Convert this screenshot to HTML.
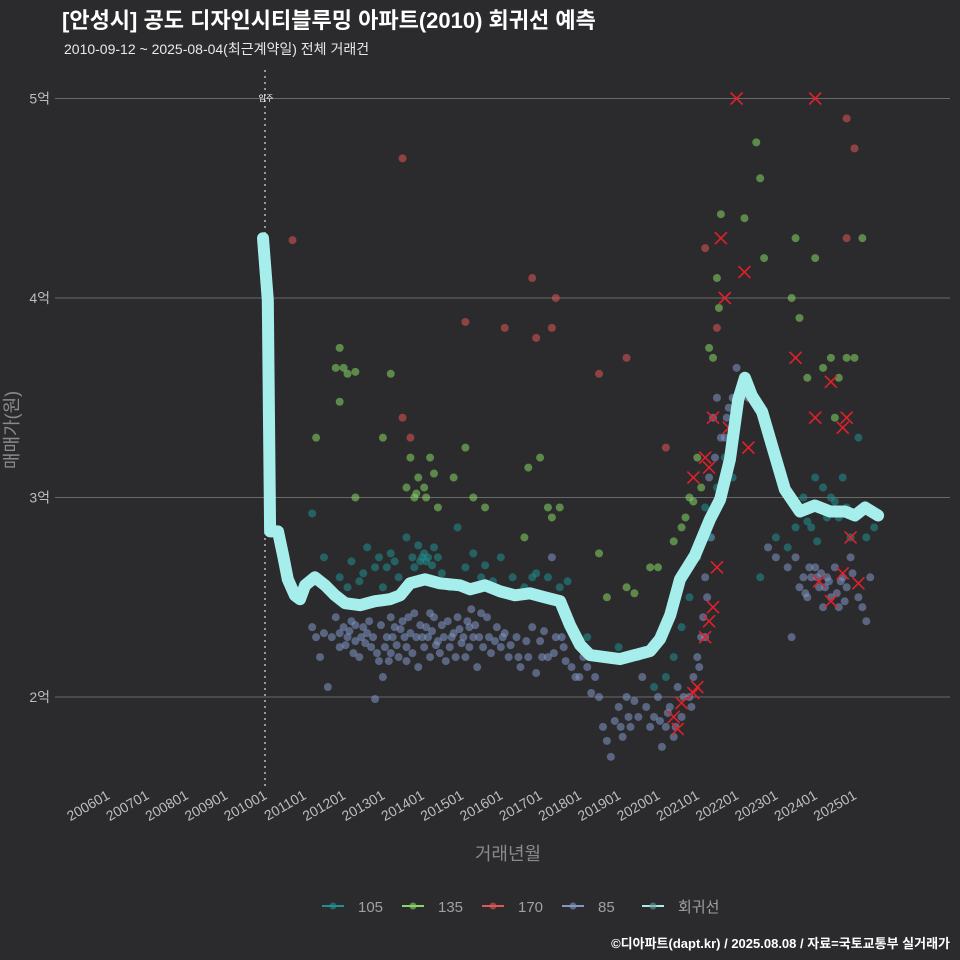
<!DOCTYPE html>
<html><head><meta charset="utf-8">
<style>
body{margin:0;background:#2b2b2d;}
svg{display:block;font-family:"Liberation Sans","Noto Sans CJK KR",sans-serif;}
</style></head>
<body>
<svg id="chart" width="960" height="960" xmlns="http://www.w3.org/2000/svg">
<rect width="960" height="960" fill="#2b2b2d"/>
<text x="62" y="28" fill="#ffffff" font-size="22" font-weight="bold">[안성시] 공도 디자인시티블루밍 아파트(2010) 회귀선 예측</text>
<text x="64" y="54" fill="#e8e8e8" font-size="14">2010-09-12 ~ 2025-08-04(최근계약일) 전체 거래건</text>
<g id="grid"></g>
<g id="yticks"></g>
<g id="xticks"></g>
<line x1="265" y1="70" x2="265" y2="790" stroke="#bbbbbb" stroke-width="1.5" stroke-dasharray="2,4"/>
<text x="266" y="101" fill="#ffffff" font-size="8" text-anchor="middle">입주</text>
<g id="points"></g>
<g id="marks"></g>
<path id="reg" fill="none" stroke="#a6eeec" stroke-width="12" stroke-linecap="round" stroke-linejoin="round"/>
<text x="18" y="430" fill="#8a8a8a" font-size="18" text-anchor="middle" transform="rotate(-90 18 430)">매매가(원)</text>
<text x="508" y="860" fill="#8a8a8a" font-size="18" text-anchor="middle">거래년월</text>
<g id="legend"></g>
<text x="950" y="948" fill="#ffffff" font-size="13" font-weight="bold" text-anchor="end">©디아파트(dapt.kr) / 2025.08.08 / 자료=국토교통부 실거래가</text>
</svg>
<script>
const yTicks=[2,3,4,5];
const yTickLabels=["2억","3억","4억","5억"];
const xTickYears=[2006,2007,2008,2009,2010,2011,2012,2013,2014,2015,2016,2017,2018,2019,2020,2021,2022,2023,2024,2025];
const xTickLabels=["200601","200701","200801","200901","201001","201101","201201","201301","201401","201501","201601","201701","201801","201901","202001","202101","202201","202301","202401","202501"];
const seriesNames=["105","135","170","85","회귀선"];
const seriesColors=["#1f9090","#86d764","#e05555","#8197c6","#a6eeec"];
const s85=[[2011.2,2.35],[2011.3,2.3],[2011.4,2.2],[2011.5,2.32],[2011.6,2.05],[2011.7,2.3],[2011.8,2.4],[2011.9,2.25],[2012.0,2.35],[2012.1,2.3],[2012.2,2.38],[2012.3,2.28],[2012.4,2.2],[2012.5,2.35],[2012.6,2.32],[2012.7,2.25],[2012.8,1.99],[2012.9,2.18],[2013.0,2.1],[2013.1,2.3],[2013.2,2.4],[2013.3,2.35],[2013.4,2.2],[2013.5,2.38],[2013.6,2.25],[2013.7,2.32],[2013.8,2.42],[2013.9,2.15],[2014.0,2.3],[2014.1,2.35],[2014.2,2.2],[2014.3,2.4],[2014.4,2.28],[2014.5,2.36],[2014.6,2.18],[2014.7,2.25],[2014.8,2.32],[2014.9,2.4],[2015.0,2.27],[2015.1,2.2],[2015.2,2.35],[2015.3,2.3],[2015.4,2.15],[2015.5,2.42],[2015.7,2.3],[2015.9,2.35],[2016.0,2.25],[2016.2,2.2],[2016.4,2.3],[2016.5,2.15],[2016.7,2.2],[2016.8,2.35],[2016.9,2.12],[2017.0,2.28],[2017.2,2.2],[2017.3,2.7],[2017.4,2.3],[2017.6,2.25],[2017.8,2.15],[2017.9,2.1],[2018.1,2.2],[2018.3,2.02],[2018.5,2.0],[2018.6,1.85],[2018.7,1.78],[2018.8,1.7],[2018.9,1.88],[2019.0,1.95],[2019.1,1.8],[2019.2,2.0],[2019.3,1.85],[2019.5,1.9],[2019.6,2.1],[2019.8,1.85],[2019.9,1.9],[2020.0,2.0],[2020.1,1.75],[2020.2,1.85],[2020.3,1.95],[2020.5,2.05],[2020.6,1.9],[2020.8,2.0],[2020.9,2.1],[2021.0,2.2],[2021.1,2.3],[2021.2,2.6],[2021.3,3.1],[2021.4,3.4],[2021.5,3.5],[2021.6,3.3],[2021.8,3.45],[2021.9,3.5],[2022.0,3.65],[2022.8,2.75],[2023.0,2.7],[2023.3,2.65],[2023.5,2.7],[2023.6,2.55],[2023.8,2.5],[2023.9,2.6],[2024.0,2.65],[2024.1,2.55],[2024.3,2.6],[2024.4,2.5],[2024.5,2.65],[2024.6,2.45],[2024.7,2.6],[2024.8,2.55],[2024.9,2.7],[2025.1,2.5],[2025.2,2.45],[2025.3,2.38],[2025.4,2.6],[2011.9,2.32],[2012.3,2.36],[2013.2,2.22],[2013.6,2.18],[2014.2,2.42],[2015.2,2.25],[2016.1,2.32],[2017.1,2.33],[2018.0,2.1],[2019.4,1.98],[2020.4,1.8],[2021.2,2.3],[2024.2,2.45],[2023.4,2.3],
[2012.05,2.26],[2012.15,2.33],[2012.25,2.22],[2012.45,2.3],[2012.55,2.27],[2012.65,2.38],[2012.75,2.3],[2012.85,2.22],[2012.95,2.36],[2013.05,2.25],[2013.15,2.18],[2013.25,2.3],[2013.35,2.26],[2013.45,2.34],[2013.55,2.3],[2013.65,2.4],[2013.75,2.22],[2013.85,2.3],[2013.95,2.36],[2014.05,2.25],[2014.15,2.3],[2014.25,2.33],[2014.35,2.26],[2014.45,2.22],[2014.55,2.3],[2014.65,2.38],[2014.75,2.3],[2014.85,2.2],[2014.95,2.34],[2015.05,2.3],[2015.15,2.38],[2015.25,2.44],[2015.35,2.36],[2015.45,2.3],[2015.55,2.25],[2015.65,2.4],[2015.75,2.22],[2015.85,2.28],[2016.05,2.3],[2016.25,2.26],[2016.45,2.2],[2016.65,2.28],[2017.05,2.2],[2017.35,2.22],[2017.55,2.3],[2017.65,2.18],[2018.2,2.15],[2018.4,2.1],[2019.05,1.85],[2019.25,1.9],[2019.7,1.95],[2020.05,1.88],[2020.25,1.92],[2020.45,1.85],[2020.65,2.0],[2020.85,1.95],[2021.05,2.15],[2021.15,2.4],[2021.25,2.5],[2021.35,2.8],[2021.45,3.2],[2021.7,3.3],[2021.75,3.4],[2022.05,3.5],[2024.05,2.6],[2024.15,2.62],[2024.25,2.55],[2024.35,2.58],[2024.55,2.52],[2024.65,2.58],[2024.75,2.48],[2024.95,2.62],[2023.7,2.6],[2023.75,2.52],[2023.85,2.65]];
const s105=[[2011.2,2.92],[2011.5,2.7],[2011.9,2.6],[2012.2,2.68],[2012.4,2.58],[2012.6,2.75],[2012.8,2.65],[2013.0,2.55],[2013.2,2.72],[2013.4,2.6],[2013.6,2.8],[2013.8,2.65],[2014.0,2.7],[2014.1,2.68],[2014.3,2.75],[2014.5,2.62],[2014.7,2.55],[2014.9,2.85],[2015.1,2.65],[2015.3,2.72],[2015.5,2.6],[2015.8,2.58],[2016.0,2.7],[2016.3,2.6],[2016.6,2.55],[2016.9,2.62],[2017.2,2.6],[2017.5,2.55],[2017.7,2.58],[2018.2,2.3],[2018.6,2.2],[2019.0,2.25],[2019.5,2.2],[2019.9,2.05],[2020.2,2.1],[2020.4,2.2],[2020.6,2.35],[2020.8,2.5],[2021.0,2.7],[2021.2,2.95],[2021.3,2.8],[2021.5,3.05],[2021.7,3.2],[2021.9,3.1],[2022.3,3.5],[2022.6,2.6],[2023.0,2.8],[2023.3,2.75],[2023.5,2.85],[2023.7,3.0],[2023.8,2.88],[2024.0,3.1],[2024.2,3.05],[2024.3,2.9],[2024.5,2.98],[2024.7,3.1],[2024.9,2.8],[2025.1,3.3],[2025.3,2.8],[2025.5,2.85],[2012.9,2.7],[2013.9,2.76],[2014.4,2.7],
[2013.75,2.7],[2013.95,2.68],[2014.05,2.72],[2014.15,2.7],[2014.25,2.66],[2012.5,2.62],[2013.1,2.65],[2013.3,2.68],[2012.1,2.55],[2015.6,2.66],[2016.8,2.6],[2024.1,2.95],[2024.4,3.0],[2024.6,2.9],[2024.8,2.95],[2023.9,2.85],[2024.05,2.78]];
const s135=[[2011.3,3.3],[2011.8,3.65],[2011.9,3.75],[2012.0,3.65],[2012.1,3.62],[2012.3,3.63],[2011.9,3.48],[2012.3,3.0],[2013.0,3.3],[2013.2,3.62],[2013.6,3.05],[2013.7,3.2],[2013.8,3.0],[2013.9,3.1],[2014.1,3.0],[2014.2,3.2],[2014.4,2.95],[2014.8,3.1],[2015.1,3.25],[2015.3,3.0],[2015.6,2.95],[2016.6,2.8],[2016.7,3.15],[2017.0,3.2],[2017.2,2.95],[2017.3,2.9],[2017.5,2.95],[2018.5,2.72],[2018.7,2.5],[2019.2,2.55],[2019.4,2.52],[2019.8,2.65],[2020.0,2.65],[2020.4,2.78],[2020.6,2.85],[2020.8,3.0],[2021.0,3.2],[2021.3,3.75],[2021.4,3.7],[2021.5,4.1],[2021.6,4.42],[2022.2,4.4],[2022.5,4.78],[2022.6,4.6],[2022.7,4.2],[2023.4,4.0],[2023.5,4.3],[2023.6,3.9],[2023.8,3.6],[2024.0,4.2],[2024.2,3.65],[2024.4,3.7],[2024.6,3.6],[2024.8,3.7],[2025.0,3.7],[2025.2,4.3],[2024.5,3.4],
[2013.85,3.02],[2014.05,3.05],[2014.3,3.12],[2020.9,2.98],[2021.1,3.05],[2020.7,2.9],[2021.55,3.95]];
const s170=[[2010.7,4.29],[2013.5,4.7],[2013.5,3.4],[2013.7,3.3],[2015.1,3.88],[2016.1,3.85],[2016.8,4.1],[2016.9,3.8],[2017.3,3.85],[2017.4,4.0],[2018.5,3.62],[2019.2,3.7],[2020.2,3.25],[2021.2,4.25],[2021.5,3.85],[2022.3,3.5],[2024.8,4.9],[2025.0,4.75],[2024.8,4.3]];
const xMarks=[[2022.0,5.0],[2024.0,5.0],[2021.6,4.3],[2022.2,4.13],[2021.7,4.0],[2023.5,3.7],[2024.4,3.58],[2024.0,3.4],[2024.8,3.4],[2024.7,3.35],[2021.4,3.4],[2021.8,3.35],[2022.3,3.25],[2021.2,3.2],[2020.9,3.1],[2021.3,3.15],[2024.9,2.8],[2021.5,2.65],[2024.1,2.58],[2024.7,2.62],[2025.1,2.57],[2024.4,2.48],[2021.4,2.45],[2021.3,2.38],[2021.2,2.3],[2021.0,2.05],[2020.9,2.02],[2020.6,1.97],[2020.4,1.9],[2020.5,1.84]];
const regT=[2009.95,2010.07,2010.13,2010.33,2010.46,2010.58,2010.76,2010.89,2011.02,2011.27,2011.53,2011.78,2012.04,2012.42,2012.8,2013.18,2013.44,2013.69,2014.07,2014.45,2014.96,2015.22,2015.6,2015.98,2016.36,2016.74,2017.12,2017.51,2017.76,2018.02,2018.27,2018.65,2019.03,2019.41,2019.8,2020.05,2020.31,2020.56,2020.94,2021.32,2021.58,2021.83,2022.04,2022.21,2022.39,2022.65,2022.9,2023.23,2023.61,2023.99,2024.38,2024.76,2025.01,2025.27,2025.6];
const regV=[4.30,3.99,2.83,2.83,2.71,2.59,2.51,2.49,2.56,2.60,2.56,2.51,2.47,2.46,2.48,2.49,2.51,2.57,2.59,2.57,2.56,2.54,2.56,2.53,2.51,2.52,2.50,2.48,2.36,2.26,2.21,2.20,2.19,2.21,2.23,2.29,2.41,2.59,2.71,2.89,2.99,3.19,3.49,3.60,3.51,3.43,3.26,3.04,2.93,2.96,2.93,2.93,2.91,2.95,2.91];

const NS="http://www.w3.org/2000/svg";
function xs(t){return 265+(t-2010)*39.3;}
function ys(v){return 697-(v-2)*199.5;}
function mk(tag,attrs,parent){const e=document.createElementNS(NS,tag);for(const k in attrs)e.setAttribute(k,attrs[k]);parent.appendChild(e);return e;}
const grid=document.getElementById('grid'),yt=document.getElementById('yticks'),xt=document.getElementById('xticks');
yTicks.forEach((v,i)=>{
  const l=mk('line',{x1:55,x2:950,y1:ys(v),y2:ys(v),stroke:'#6a6a6a','stroke-width':1},grid);
  
  
  const t=mk('text',{x:50,y:ys(v)+5,fill:'#bdbdbd','font-size':14,'text-anchor':'end'},yt);
  t.textContent=yTickLabels[i];
  
  
});
xTickYears.forEach((y,i)=>{
  const x=xs(y);
  const t=mk('text',{x:x+3,y:798,fill:'#bdbdbd','font-size':14,'text-anchor':'end',transform:`rotate(-30 ${x+3} 798)`},xt);
  t.textContent=xTickLabels[i];
  
  
});
const pts=document.getElementById('points');
[[s85,3],[s105,0],[s135,1],[s170,2]].forEach(([arr,ci])=>{
  arr.forEach(p=>{
    const c=mk('circle',{cx:xs(p[0]),cy:ys(p[1]),r:4,fill:seriesColors[ci],'fill-opacity':0.55},pts);
    
    
  });
});
const mg=document.getElementById('marks');
xMarks.forEach(p=>{
  const x=xs(p[0]),y=ys(p[1]);
  const e=mk('path',{d:`M${x-6},${y-6}L${x+6},${y+6}M${x+6},${y-6}L${x-6},${y+6}`,stroke:'#e0202a','stroke-width':1.6},mg);
  
  
});
document.getElementById('reg').setAttribute('d',regT.map((t,i)=>(i?'L':'M')+xs(t).toFixed(1)+','+ys(regV[i]).toFixed(1)).join(''));
const lg=document.getElementById('legend');
const lx=[322,402,482,562,642];
seriesNames.forEach((n,i)=>{
  const g=mk('g',{},lg);
  
  
  mk('line',{x1:lx[i],x2:lx[i]+22,y1:906,y2:906,stroke:seriesColors[i],'stroke-width':2},g);
  mk('circle',{cx:lx[i]+11,cy:906,r:3.5,fill:i==4?'#6a9a98':seriesColors[i],'fill-opacity':0.6},g);
  const t=mk('text',{x:lx[i]+36,y:912,fill:'#a0a0a0','font-size':15},g);
  t.textContent=n;
});
</script>
</body></html>
